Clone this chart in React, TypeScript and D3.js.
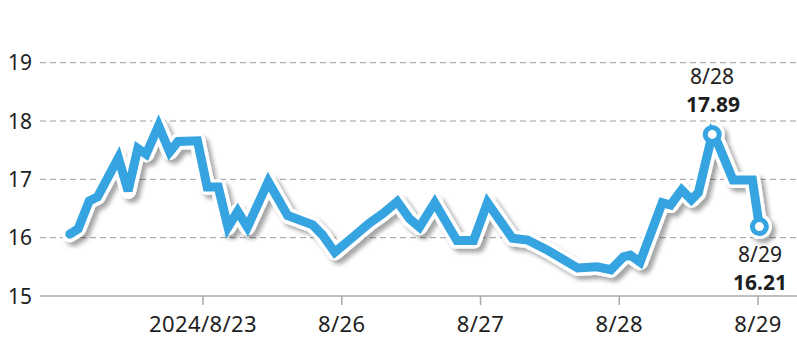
import React from "react";
import * as d3 from "d3";

// time in trading days since the 8/22 session start (weekend removed), value
const times = [
  0.04, 0.1, 0.18, 0.24, 0.39, 0.46, 0.53, 0.59, 0.68, 0.76, 0.82, 0.96,
  1.03, 1.11, 1.18, 1.25, 1.32, 1.47, 1.61, 1.79, 1.86, 1.95,
  2.08, 2.2, 2.3, 2.4, 2.49, 2.56, 2.67, 2.83, 2.95,
  3.05, 3.23, 3.34, 3.48, 3.7, 3.84, 3.94,
  4.03, 4.08, 4.15, 4.31, 4.37, 4.45, 4.52, 4.57, 4.67, 4.71, 4.82, 4.96, 5.01,
];
const values = [
  16.06, 16.15, 16.63, 16.7, 17.37, 16.8, 17.53, 17.43, 17.92, 17.47, 17.65, 17.66,
  16.87, 16.87, 16.18, 16.45, 16.18, 16.96, 16.38, 16.22, 16.05, 15.75,
  16.01, 16.25, 16.42, 16.62, 16.32, 16.18, 16.6, 15.95, 15.95,
  16.6, 15.99, 15.96, 15.79, 15.48, 15.5, 15.45,
  15.67, 15.7, 15.58, 16.6, 16.56, 16.82, 16.65, 16.77, 17.77, 17.62, 16.99, 16.99, 16.19,
];

const tickDays = [1, 2, 3, 4, 5];
const tickLabels = ["2024/8/23", "8/26", "8/27", "8/28", "8/29"];
const yTicks = [15, 16, 17, 18, 19];

// annotated points: index into the series, date label, value label
const annotIndex = [46, 50];
const annotDate = ["8/28", "8/29"];
const annotValue = ["17.89", "16.21"];

const W = 797;
const H = 342;
const BLUE = "#36a4e0";
const FONT = "'Noto Sans', 'DejaVu Sans', sans-serif";

export default function App() {
  const x = d3.scaleLinear().domain([0, 5]).range([64.25, 758]);
  const y = d3.scaleLinear().domain([15, 19]).range([296, 62.7]);
  const pts: [number, number][] = times.map((t, i) => [x(t), y(values[i])]);
  const line = d3.line<[number, number]>().x((d) => d[0]).y((d) => d[1]);
  const path = line(pts) || "";

  return (
    <svg
      width={W}
      height={H}
      style={{ position: "absolute", left: 0, top: 0, background: "#fff" }}
      fontFamily={FONT}
    >
      <defs>
        <filter id="shadow" x="-10%" y="-20%" width="120%" height="140%">
          <feDropShadow dx="4" dy="4" stdDeviation="2.2" floodColor="#000" floodOpacity="0.35" />
        </filter>
      </defs>
      <rect width={W} height={H} fill="#fff" />
      {yTicks.slice(1).map((v) => (
        <line
          key={"g" + v}
          x1={40}
          x2={W}
          y1={y(v)}
          y2={y(v)}
          stroke="#9a9a9a"
          strokeWidth={1}
          strokeDasharray="6,4"
        />
      ))}
      <line x1={40} x2={W} y1={y(15)} y2={y(15)} stroke="#aaa" strokeWidth={1.5} />
      {tickDays.map((d, i) => (
        <g key={"t" + d}>
          <line x1={x(d)} x2={x(d)} y1={y(15)} y2={y(15) + 9} stroke="#aaa" strokeWidth={1.5} />
          <text x={x(d)} y={332} textAnchor="middle" fontSize={22} fill="#1e1e1e" letterSpacing={0.4}>
            {tickLabels[i]}
          </text>
        </g>
      ))}
      {yTicks.map((v) => (
        <text key={"y" + v} x={8} y={y(v) + 7.5} fontSize={21} fill="#1e1e1e">
          {v}
        </text>
      ))}
      <g filter="url(#shadow)">
        <path d={path} fill="none" stroke="#fff" strokeWidth={16} strokeLinejoin="round" strokeLinecap="round" />
        {annotIndex.map((k) => (
          <circle key={"h" + k} cx={pts[k][0]} cy={pts[k][1]} r={12.5} fill="#fff" />
        ))}
      </g>
      <path d={path} fill="none" stroke={BLUE} strokeWidth={9} strokeLinejoin="miter" strokeMiterlimit={3} strokeLinecap="round" />
      {annotIndex.map((k) => (
        <circle key={"c" + k} cx={pts[k][0]} cy={pts[k][1]} r={7} fill="#fff" stroke={BLUE} strokeWidth={5} />
      ))}
      <text x={712} y={84} textAnchor="middle" fontSize={21} fill="#1e1e1e">{annotDate[0]}</text>
      <text x={713} y={112} textAnchor="middle" fontSize={21} fontWeight="bold" fill="#1e1e1e">{annotValue[0]}</text>
      <text x={760} y={262} textAnchor="middle" fontSize={21} fill="#1e1e1e">{annotDate[1]}</text>
      <text x={760} y={290} textAnchor="middle" fontSize={21} fontWeight="bold" fill="#1e1e1e">{annotValue[1]}</text>
    </svg>
  );
}
